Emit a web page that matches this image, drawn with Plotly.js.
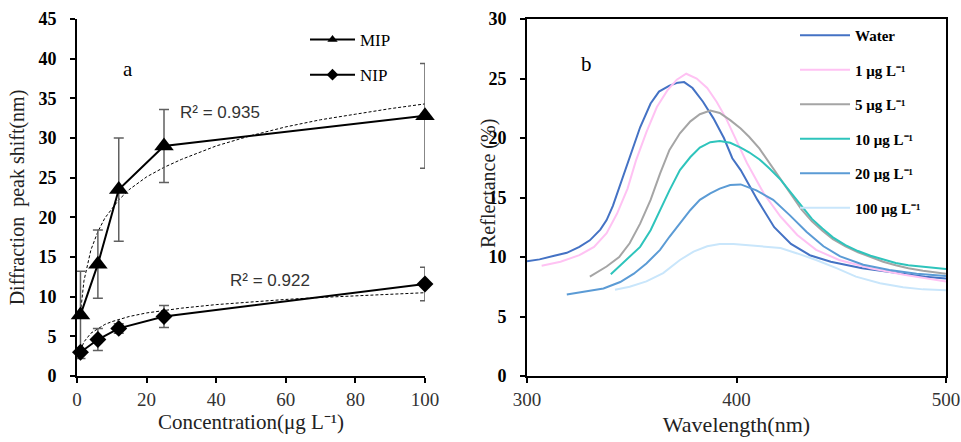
<!DOCTYPE html>
<html>
<head>
<meta charset="utf-8">
<script src="https://cdn.plot.ly/plotly-3.0.1.min.js"></script>
<style>
html,body{margin:0;padding:0;background:#fff}
#chart{width:961px;height:442px}
#chart g.ytick text, #chart g.y2tick text{font-weight:700 !important}
</style>
</head>
<body>
<div id="chart"></div>
<script>
// ---- Panel a: diffraction peak shift ----
const conc = [1, 6, 12, 25, 100];
const mipShift = [7.7, 14.1, 23.5, 29.0, 32.8];
const mipErr = [5.5, 4.3, 6.5, 4.6, 6.6];
const nipShift = [3.0, 4.6, 6.0, 7.5, 11.6];
const nipErr = [0.3, 1.4, 0.6, 1.4, 2.1];
const trendX = [1, 2, 4, 6, 8, 10, 12, 15, 20, 25, 30, 40, 50, 60, 70, 80, 90, 100];
const mipTrend = [8.0, 12.0, 15.9, 18.2, 19.9, 21.1, 22.2, 23.5, 25.1, 26.3, 27.3, 29.0, 30.3, 31.4, 32.3, 33.0, 33.7, 34.3];
const nipTrend = [3.2, 4.3, 5.4, 6.0, 6.5, 6.85, 7.1, 7.5, 7.95, 8.25, 8.55, 9.0, 9.35, 9.65, 9.9, 10.1, 10.3, 10.5];
const seriesA = ['MIP', 'NIP'];
const r2Labels = ['R² = 0.935', 'R² = 0.922'];

// ---- Panel b: reflectance spectra ----
const specNames = ['Water', '1 μg L⁻¹', '5 μg L⁻¹', '10 μg L⁻¹', '20 μg L⁻¹', '100 μg L⁻¹'];
const wlWater = [300, 306, 313, 319, 325, 330, 335, 338, 341, 344, 347, 350, 354, 359, 363, 368, 372, 375, 379, 384, 389, 394, 398, 402, 410, 418, 426, 435, 445, 460, 476, 490, 500];
const rWater = [9.65, 9.8, 10.1, 10.35, 10.85, 11.4, 12.3, 13.1, 14.3, 15.8, 17.4, 18.9, 20.9, 22.9, 23.9, 24.4, 24.65, 24.7, 24.2, 23.05, 21.65, 20.0, 18.3, 17.3, 14.8, 12.5, 11.1, 10.15, 9.6, 9.05, 8.65, 8.35, 8.2];
const wl1 = [307, 316, 325, 332, 338, 343, 348, 352, 357, 362, 367, 371.5, 376, 381, 386, 390.5, 395, 400, 405, 413, 421, 429, 438, 449, 464, 480, 490, 500];
const r1 = [9.27, 9.6, 10.15, 10.85, 12.0, 13.65, 15.75, 18.1, 20.5, 22.6, 24.0, 24.9, 25.4, 25.0, 24.2, 23.05, 21.65, 19.8, 17.9, 15.35, 13.4, 11.85, 10.6, 9.75, 9.05, 8.5, 8.2, 7.93];
const wl5 = [330, 338, 344, 349, 354, 359, 363.5, 368, 373, 378, 382.5, 387.5, 392, 397, 402, 406, 411, 416, 421, 426, 431, 436, 441, 446, 452, 458, 464, 470, 476, 482, 489, 500];
const r5 = [8.35, 9.2, 10.0, 11.15, 12.8, 14.8, 17.0, 19.0, 20.4, 21.4, 22.0, 22.3, 22.1, 21.5, 20.8, 20.1, 19.1, 17.8, 16.5, 15.2, 14.0, 13.0, 12.2, 11.5, 10.9, 10.4, 10.0, 9.6, 9.3, 9.05, 8.85, 8.6];
const wl10 = [340, 344, 349, 354, 359, 363.5, 368, 373, 378, 382.5, 387.5, 392, 397, 402, 406, 411, 416, 421, 426, 431, 436, 441, 446, 452, 458, 464, 470, 476, 482, 490, 500];
const r10 = [8.55, 9.2, 10.0, 10.85, 12.25, 13.95, 15.6, 17.3, 18.4, 19.2, 19.65, 19.75, 19.6, 19.2, 18.8, 18.2, 17.4, 16.5, 15.4, 14.3, 13.2, 12.4, 11.65, 11.0, 10.5, 10.1, 9.8, 9.5, 9.3, 9.15, 9.0];
const wl20 = [319, 328.5, 336.5, 344.5, 351, 357, 363.5, 368, 373, 378, 382.5, 387.5, 392, 397, 402, 409.5, 417.5, 425.5, 433.5, 441.5, 449.5, 460.5, 473, 486, 500];
const r20 = [6.85, 7.1, 7.35, 7.9, 8.6, 9.45, 10.6, 11.7, 12.85, 13.95, 14.8, 15.35, 15.75, 16.05, 16.1, 15.6, 14.8, 13.5, 12.1, 10.9, 10.05, 9.35, 8.9, 8.6, 8.4];
const wl100 = [342, 349, 357, 365, 373, 379.5, 386, 392, 398.5, 405, 413, 421, 429, 438, 448, 457, 468.5, 479.5, 489, 500];
const r100 = [7.25, 7.5, 7.95, 8.65, 9.75, 10.45, 10.9, 11.1, 11.1, 11.0, 10.9, 10.75, 10.3, 9.75, 9.05, 8.35, 7.8, 7.45, 7.28, 7.2];

const specColors = ['#4472C4', '#FFC2F3', '#A5A5A5', '#2EC4BC', '#5B9BD5', '#C9E6FB'];
const specX = [wlWater, wl1, wl5, wl10, wl20, wl100];
const specY = [rWater, r1, r5, r10, r20, r100];

const serif = 'Liberation Serif, Times New Roman, serif';
const errStyle = {type: 'data', visible: true, color: '#606060', thickness: 1.5, width: 5};

const traces = [];
// trend lines
traces.push({x: trendX, y: mipTrend, type: 'scatter', mode: 'lines', xaxis: 'x', yaxis: 'y',
  line: {color: '#000', width: 1, dash: '3px,2px'}, showlegend: false, hoverinfo: 'skip'});
traces.push({x: trendX, y: nipTrend, type: 'scatter', mode: 'lines', xaxis: 'x', yaxis: 'y',
  line: {color: '#000', width: 1, dash: '3px,2px'}, showlegend: false, hoverinfo: 'skip'});
// data with error bars
traces.push({x: conc, y: mipShift, type: 'scatter', mode: 'lines+markers', xaxis: 'x', yaxis: 'y',
  name: seriesA[0], showlegend: false, cliponaxis: false,
  line: {color: '#000', width: 2}, marker: {symbol: 'triangle-up', size: 17, color: '#000'},
  error_y: Object.assign({array: mipErr}, errStyle)});
traces.push({x: conc, y: nipShift, type: 'scatter', mode: 'lines+markers', xaxis: 'x', yaxis: 'y',
  name: seriesA[1], showlegend: false, cliponaxis: false,
  line: {color: '#000', width: 2}, marker: {symbol: 'diamond', size: 13, color: '#000'},
  error_y: Object.assign({array: nipErr}, errStyle)});
// legend entries for panel a (smaller markers)
traces.push({x: [null], y: [null], type: 'scatter', mode: 'lines+markers', xaxis: 'x', yaxis: 'y',
  name: seriesA[0], legend: 'legend', legendgroup: 'g1',
  line: {color: '#000', width: 2}, marker: {symbol: 'triangle-up', size: 9, color: '#000'}});
traces.push({x: [null], y: [null], type: 'scatter', mode: 'lines+markers', xaxis: 'x', yaxis: 'y',
  name: seriesA[1], legend: 'legend', legendgroup: 'g2',
  line: {color: '#000', width: 2}, marker: {symbol: 'diamond', size: 9, color: '#000'}});
// spectra
for (let i = 0; i < specNames.length; i++) {
  traces.push({x: specX[i], y: specY[i], type: 'scatter', mode: 'lines', xaxis: 'x2', yaxis: 'y2',
    name: specNames[i], legend: 'legend2', legendgroup: 's' + i,
    line: {color: specColors[i], width: 2}});
}

const layout = {
  width: 961, height: 442,
  margin: {l: 0, r: 0, t: 0, b: 0},
  paper_bgcolor: '#fff', plot_bgcolor: '#fff',
  showlegend: true,
  xaxis: {domain: [77/961, 425/961], range: [0, 100], tickvals: [0, 20, 40, 60, 80, 100],
    showgrid: false, zeroline: false, showline: true, linecolor: '#000', linewidth: 2,
    ticks: 'outside', ticklen: 5, tickwidth: 1.5, tickcolor: '#000',
    tickfont: {family: serif, size: 19, color: '#333'}, automargin: false,
    title: {text: 'Concentration(μg L⁻¹)', font: {family: serif, size: 21, color: '#222'}, standoff: 4}},
  yaxis: {domain: [66/442, 423/442], range: [0, 45], tickvals: [0, 5, 10, 15, 20, 25, 30, 35, 40, 45],
    showgrid: false, zeroline: false, showline: true, linecolor: '#000', linewidth: 2,
    ticks: 'outside', ticklen: 5, tickwidth: 1.5, tickcolor: '#000', ticklabelstandoff: 10,
    tickfont: {family: serif, size: 18, color: '#000', weight: 700}, automargin: false,
    title: {text: 'Diffraction  peak shift(nm)', font: {family: serif, size: 20, color: '#222'}, standoff: 8}},
  xaxis2: {domain: [527/961, 946/961], range: [300, 500], tickvals: [300, 400, 500], anchor: 'y2',
    showgrid: false, zeroline: false, showline: true, mirror: true, linecolor: '#000', linewidth: 2,
    ticks: 'outside', ticklen: 5, tickwidth: 1.5, tickcolor: '#000',
    tickfont: {family: serif, size: 19, color: '#333'}, automargin: false,
    title: {text: 'Wavelength(nm)', font: {family: serif, size: 22, color: '#222'}, standoff: 8}},
  yaxis2: {domain: [66/442, 423/442], range: [0, 30], tickvals: [0, 5, 10, 15, 20, 25, 30], anchor: 'x2',
    showgrid: false, zeroline: false, showline: true, mirror: true, linecolor: '#000', linewidth: 2,
    ticks: 'outside', ticklen: 5, tickwidth: 1.5, tickcolor: '#000', ticklabelstandoff: 10,
    tickfont: {family: serif, size: 18, color: '#000', weight: 700}, automargin: false},
  legend: {x: 305/961, y: 1 - 22/442, xanchor: 'left', yanchor: 'top', bgcolor: 'rgba(0,0,0,0)',
    font: {family: serif, size: 17, color: '#000'}, tracegroupgap: 10, traceorder: 'grouped', itemwidth: 45},
  legend2: {x: 795/961, y: 1 - 19/442, xanchor: 'left', yanchor: 'top', bgcolor: 'rgba(0,0,0,0)',
    font: {family: serif, size: 15, color: '#000', weight: 'bold'}, tracegroupgap: 12, traceorder: 'grouped', itemwidth: 50},
  annotations: [
    {xref: 'paper', yref: 'paper', x: 488/961, y: 1 - 183/442, text: 'Reflectance (%)', textangle: -90,
      showarrow: false, xanchor: 'center', yanchor: 'middle',
      font: {family: serif, size: 20, color: '#222'}},
    {xref: 'x', yref: 'y', x: 29, y: 33.25, text: r2Labels[0], showarrow: false, xanchor: 'left', yanchor: 'middle',
      font: {family: 'Liberation Sans, Arial, sans-serif', size: 17, color: '#333'}},
    {xref: 'x', yref: 'y', x: 43.4, y: 12.0, text: r2Labels[1], showarrow: false, xanchor: 'left', yanchor: 'middle',
      font: {family: 'Liberation Sans, Arial, sans-serif', size: 17, color: '#333'}},
    {xref: 'x', yref: 'y', x: 14.7, y: 38.7, text: 'a', showarrow: false,
      font: {family: serif, size: 21, color: '#000'}},
    {xref: 'x2', yref: 'y2', x: 328.6, y: 26.2, text: 'b', showarrow: false,
      font: {family: serif, size: 21, color: '#000'}}
  ]
};

Plotly.newPlot('chart', traces, layout, {displayModeBar: false});
</script>
</body>
</html>
